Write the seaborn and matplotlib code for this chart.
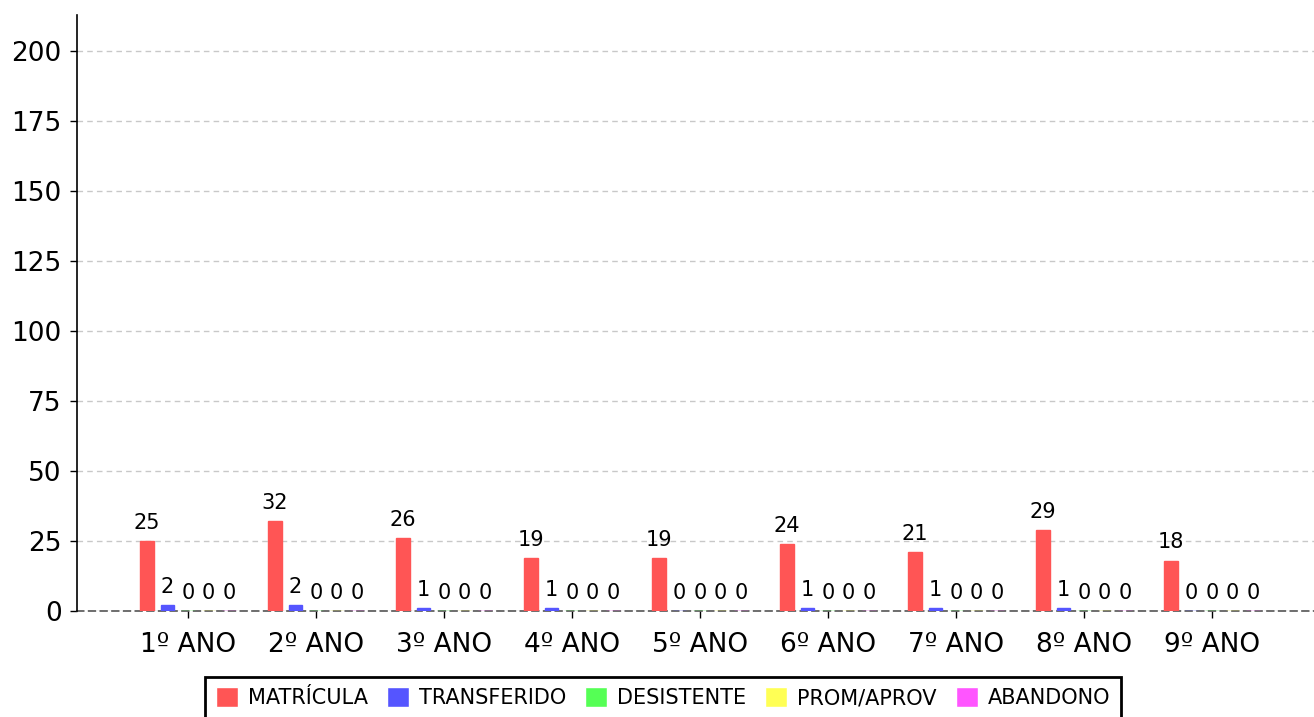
""" Bar chart of school year movements. """

import matplotlib

matplotlib.use("Agg")
import matplotlib.pyplot as plt
import pandas as pd
import seaborn as sns

ANOS = ["1º ANO", "2º ANO", "3º ANO", "4º ANO", "5º ANO", "6º ANO", "7º ANO", "8º ANO", "9º ANO"]
SERIES = ["MATRÍCULA", "TRANSFERIDO", "DESISTENTE", "PROM/APROV", "ABANDONO"]
MATRICULA = [25, 32, 26, 19, 19, 24, 21, 29, 18]
TRANSFERIDO = [2, 2, 1, 1, 0, 1, 1, 1, 0]
DESISTENTE = [0, 0, 0, 0, 0, 0, 0, 0, 0]
PROM_APROV = [0, 0, 0, 0, 0, 0, 0, 0, 0]
ABANDONO = [0, 0, 0, 0, 0, 0, 0, 0, 0]
COLORS = ["#ff5555", "#5555ff", "#55ff55", "#ffff55", "#ff55ff"]

values = [MATRICULA, TRANSFERIDO, DESISTENTE, PROM_APROV, ABANDONO]
df = pd.DataFrame(
    [
        {"ano": ano, "serie": serie, "valor": v}
        for serie, vals in zip(SERIES, values)
        for ano, v in zip(ANOS, vals)
    ]
)

sns.set_style("white")
plt.rcParams["font.family"] = ["DejaVu Sans"]
plt.rcParams["text.color"] = "black"
plt.rcParams["xtick.color"] = "black"
plt.rcParams["ytick.color"] = "black"

fig = plt.figure(figsize=(13.14, 7.17), dpi=100)
ax = fig.add_axes([0.0586, 0.1478, 0.9414, 0.8312])

sns.barplot(
    data=df,
    x="ano",
    y="valor",
    hue="serie",
    order=ANOS,
    hue_order=SERIES,
    palette=COLORS,
    saturation=1,
    gap=0.35,
    width=0.8,
    errorbar=None,
    ax=ax,
)

for container in ax.containers:
    for p in container:
        p.set_edgecolor(p.get_facecolor())
        p.set_linewidth(1)
        p.set_zorder(3)
    ax.bar_label(container, fmt="%d", padding=6, fontsize=15, color="black")

ax.set_xlim(-0.867, 8.797)
ax.set_ylim(0, 213)
ax.set_yticks(range(0, 201, 25))
ax.set_axisbelow(True)
ax.yaxis.grid(True, linestyle=(0, (4, 3)), color="#c8c8c8", linewidth=1)
ax.set_xlabel("")
ax.set_ylabel("")
ax.tick_params(axis="both", labelsize=19, length=5, width=1, direction="out")
ax.tick_params(axis="x", bottom=True, pad=10)
ax.tick_params(axis="y", left=True, pad=6)

for side in ["top", "right"]:
    ax.spines[side].set_visible(False)
ax.spines["left"].set_color("black")
ax.spines["left"].set_linewidth(1.2)
ax.spines["bottom"].set_color("#555555")
ax.spines["bottom"].set_linestyle((0, (4, 3)))
ax.spines["bottom"].set_linewidth(1.2)
ax.spines["bottom"].set_zorder(2)

handles, labels = ax.get_legend_handles_labels()
ax.get_legend().remove()
leg = fig.legend(
    handles,
    labels,
    loc="upper center",
    bbox_to_anchor=(0.5046, 0.056),
    ncol=5,
    fontsize=15,
    frameon=True,
    fancybox=False,
    framealpha=1,
    handlelength=1.05,
    handleheight=1.05,
    handletextpad=0.5,
    columnspacing=0.9,
    borderpad=0.5,
    borderaxespad=0,
)
leg.get_frame().set_edgecolor("black")
leg.get_frame().set_linewidth(2)

plt.savefig("out.png", dpi=100)
